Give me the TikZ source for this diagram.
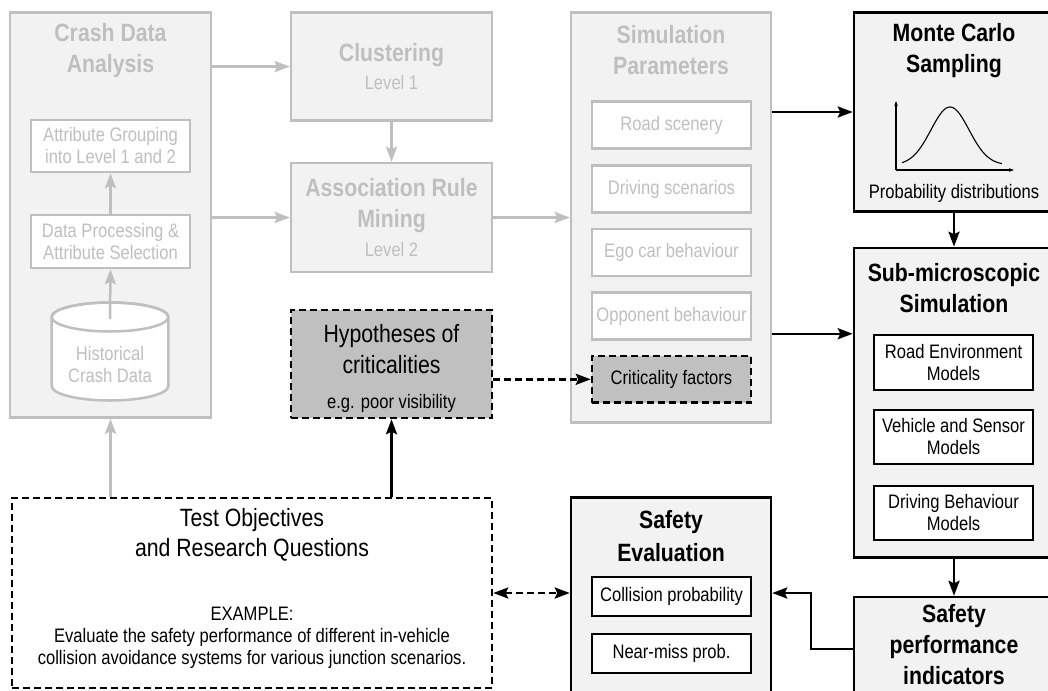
\documentclass[tikz,border=0pt]{standalone}
\usepackage{fontspec}
\setmainfont{Liberation Sans}[FakeStretch=0.85]
\usetikzlibrary{arrows.meta}

\definecolor{panelfill}{HTML}{F2F2F2}
\definecolor{fadeline}{HTML}{BFBFBF}
\definecolor{hypfill}{HTML}{C0C0C0}

\tikzset{
  bodytxt/.style={font=\fontsize{19.5}{22}\selectfont, align=center},
  bigtxt/.style={font=\fontsize{25}{31}\selectfont, align=center},
  headtxt/.style={font=\bfseries\fontsize{25}{31}\selectfont, align=center},
  fadepanel/.style={draw=fadeline, fill=panelfill, line width=2.5pt, inner sep=0pt},
  fadeitem/.style={draw=fadeline, fill=white, line width=2.5pt, inner sep=0pt, text=fadeline, bodytxt},
  blackpanel/.style={draw=black, fill=panelfill, line width=2.5pt, inner sep=0pt},
  blackitem/.style={draw=black, fill=white, line width=2.5pt, inner sep=0pt, bodytxt},
  dashitem/.style={draw=black, fill=hypfill, line width=2.5pt, dash pattern=on 7pt off 4pt, inner sep=0pt},
  tip/.style={-{Stealth[length=15pt,width=11pt,inset=2.5pt]}},
  fadearrow/.style={tip, draw=fadeline, line width=2.5pt},
  blackarrow/.style={tip, draw=black, line width=2.5pt},
  dasharrow/.style={draw=black, line width=2.5pt, dash pattern=on 7pt off 4pt},
}

\begin{document}
\begin{tikzpicture}[x=1pt, y=-1pt]
\useasboundingbox (0,0) rectangle (1048,690);
\fill[white] (0,0) rectangle (1048,690);

% ---------- Crash data analysis column ----------
\node[fadepanel, minimum width=201, minimum height=405] (cda) at (110.5,215) {};
\node[headtxt, text=fadeline] (cdat) at (110.5,51) {Crash Data\\Analysis};
\node[fadeitem, minimum width=159, minimum height=52] (ag) at (110.5,146) {Attribute Grouping\\into Level 1 and 2};
\node[fadeitem, minimum width=159, minimum height=53] (dp) at (110.5,241.5) {Data Processing \&\\Attribute Selection};
% database cylinder
\draw[draw=fadeline, fill=white, line width=2.5pt]
  (51.7,317) -- (51.7,386)
  arc[start angle=180, end angle=0, x radius=58.3, y radius=14.5]
  -- (168.3,317)
  arc[start angle=0, end angle=-180, x radius=58.3, y radius=14.5] -- cycle;
\draw[draw=fadeline, line width=2.5pt] (110,317) ellipse[x radius=58.3, y radius=14.5];
\node[bodytxt, text=fadeline] (hist) at (110,365) {Historical\\Crash Data};
\coordinate (histtop) at (110,319);

% ---------- Clustering and rule mining ----------
\node[fadepanel, minimum width=201, minimum height=108] (clu) at (391.5,66.6) {};
\node[headtxt, text=fadeline] (clut) at (391.5,55) {Clustering};
\node[bodytxt, text=fadeline] (clul) at (391.5,83) {Level 1};
\node[fadepanel, minimum width=201, minimum height=109] (arm) at (391.5,217.5) {};
\node[headtxt, text=fadeline] (armt) at (391.5,206) {Association Rule\\Mining};
\node[bodytxt, text=fadeline] (arml) at (391.5,250) {Level 2};

% ---------- Hypotheses ----------
\node[dashitem, minimum width=201, minimum height=108] (hyp) at (391.5,364) {};
\node[bigtxt] (hypt) at (391.5,349) {Hypotheses of\\criticalities};
\node[bodytxt] (hype) at (391.5,403) {e.g. poor visibility};

% ---------- Simulation parameters ----------
\node[fadepanel, minimum width=200, minimum height=410] (sim) at (671,217.7) {};
\node[headtxt, text=fadeline] (simt) at (671,50) {Simulation\\Parameters};
\node[fadeitem, minimum width=159, minimum height=46.6] (rs) at (671.5,125) {Road scenery};
\node[fadeitem, minimum width=159, minimum height=46.6] (ds) at (671.5,189) {Driving scenarios};
\node[fadeitem, minimum width=159, minimum height=46.6] (ego) at (671.5,252.5) {Ego car behaviour};
\node[fadeitem, minimum width=159, minimum height=46.6] (opp) at (671.5,316) {Opponent behaviour};
\node[dashitem, bodytxt, minimum width=159, minimum height=46.6] (crit) at (671.5,379.3) {Criticality factors};

% ---------- Monte Carlo sampling ----------
\node[blackpanel, minimum width=200, minimum height=199.4] (mc) at (954,112) {};
\node[headtxt] (mct) at (954,51) {Monte Carlo\\Sampling};
\draw[line width=1.1pt, -{Stealth[length=5pt,width=3.5pt]}] (896,170) -- (896,101);
\draw[line width=1.1pt, -{Stealth[length=5pt,width=3.5pt]}] (896,170) -- (1014,170);
\draw[line width=1.1pt, domain=902:1002, samples=80, smooth]
  plot (\x, {165-58*exp(-((\x-950)/19)^2/2)});
\node[bodytxt] (mcp) at (954,193) {Probability distributions};

% ---------- Sub-microscopic simulation ----------
\node[blackpanel, minimum width=200, minimum height=309.5] (sub) at (954,402.7) {};
\node[headtxt] (subt) at (954,288) {Sub-microscopic\\Simulation};
\node[blackitem, minimum width=159, minimum height=55] (rem) at (953.5,362.5) {Road Environment\\Models};
\node[blackitem, minimum width=159, minimum height=54] (vsm) at (953.5,437) {Vehicle and Sensor\\Models};
\node[blackitem, minimum width=159, minimum height=54] (dbm) at (953.5,513) {Driving Behaviour\\Models};

% ---------- Safety performance indicators ----------
\node[blackpanel, minimum width=200, minimum height=123] (spi) at (954,658.5) {};
\node[headtxt, font=\bfseries\fontsize{25}{31}\selectfont] (spit) at (954,645) {Safety\\performance\\indicators};

% ---------- Safety evaluation ----------
\node[blackpanel, minimum width=200, minimum height=222.5] (se) at (671,608.8) {};
\node[headtxt, font=\bfseries\fontsize{25}{33}\selectfont] (set) at (671,536.5) {Safety\\Evaluation};
\node[blackitem, minimum width=159, minimum height=39] (col) at (671.5,596.5) {Collision probability};
\node[blackitem, minimum width=159, minimum height=39] (nm) at (671.5,653.5) {Near-miss prob.};

% ---------- Test objectives ----------
\node[draw=black, fill=white, line width=2.5pt, dash pattern=on 7pt off 4pt, inner sep=0pt,
      minimum width=480, minimum height=190] (tob) at (252,593) {};
\node[bigtxt, font=\fontsize{25}{30}\selectfont] (tobt) at (252,535) {Test Objectives\\and Research Questions};
\node[bodytxt] (tobe) at (252,637.5) {EXAMPLE:\\Evaluate the safety performance of different in-vehicle\\collision avoidance systems for various junction scenarios.};

% ---------- Connectors ----------
\draw[fadearrow] (histtop) -- (dp.south);
\draw[fadearrow] (dp.north) -- (ag.south);
\draw[fadearrow] (cda.east |- clu.west) -- (clu.west);
\draw[fadearrow] (cda.east |- arm.west) -- (arm.west);
\draw[fadearrow] (clu.south) -- (arm.north);
\draw[fadearrow] (arm.east) -- (sim.west |- arm.east);
\draw[fadearrow] (cda.south |- tob.north) -- (cda.south);
\draw[blackarrow] (hyp.south |- tob.north) -- (hyp.south);
\draw[dasharrow, tip] (hyp.east |- crit.west) -- (crit.west);
\draw[blackarrow] (sim.east |- mc.west) -- (mc.west);
\draw[blackarrow] (sim.east |- rem.north) -- (sub.west |- rem.north);
\draw[blackarrow] (mc.south) -- (sub.north);
\draw[blackarrow] (sub.south) -- (spi.north);
\draw[blackarrow] ([yshift=9.5pt]spi.west) -- ++(-42,0) |- (se.east |- tob.east);
\draw[dasharrow, {Stealth[length=15pt,width=11pt,inset=2.5pt]}-{Stealth[length=15pt,width=11pt,inset=2.5pt]}]
  (tob.east) -- (se.west |- tob.east);
\end{tikzpicture}
\end{document}
